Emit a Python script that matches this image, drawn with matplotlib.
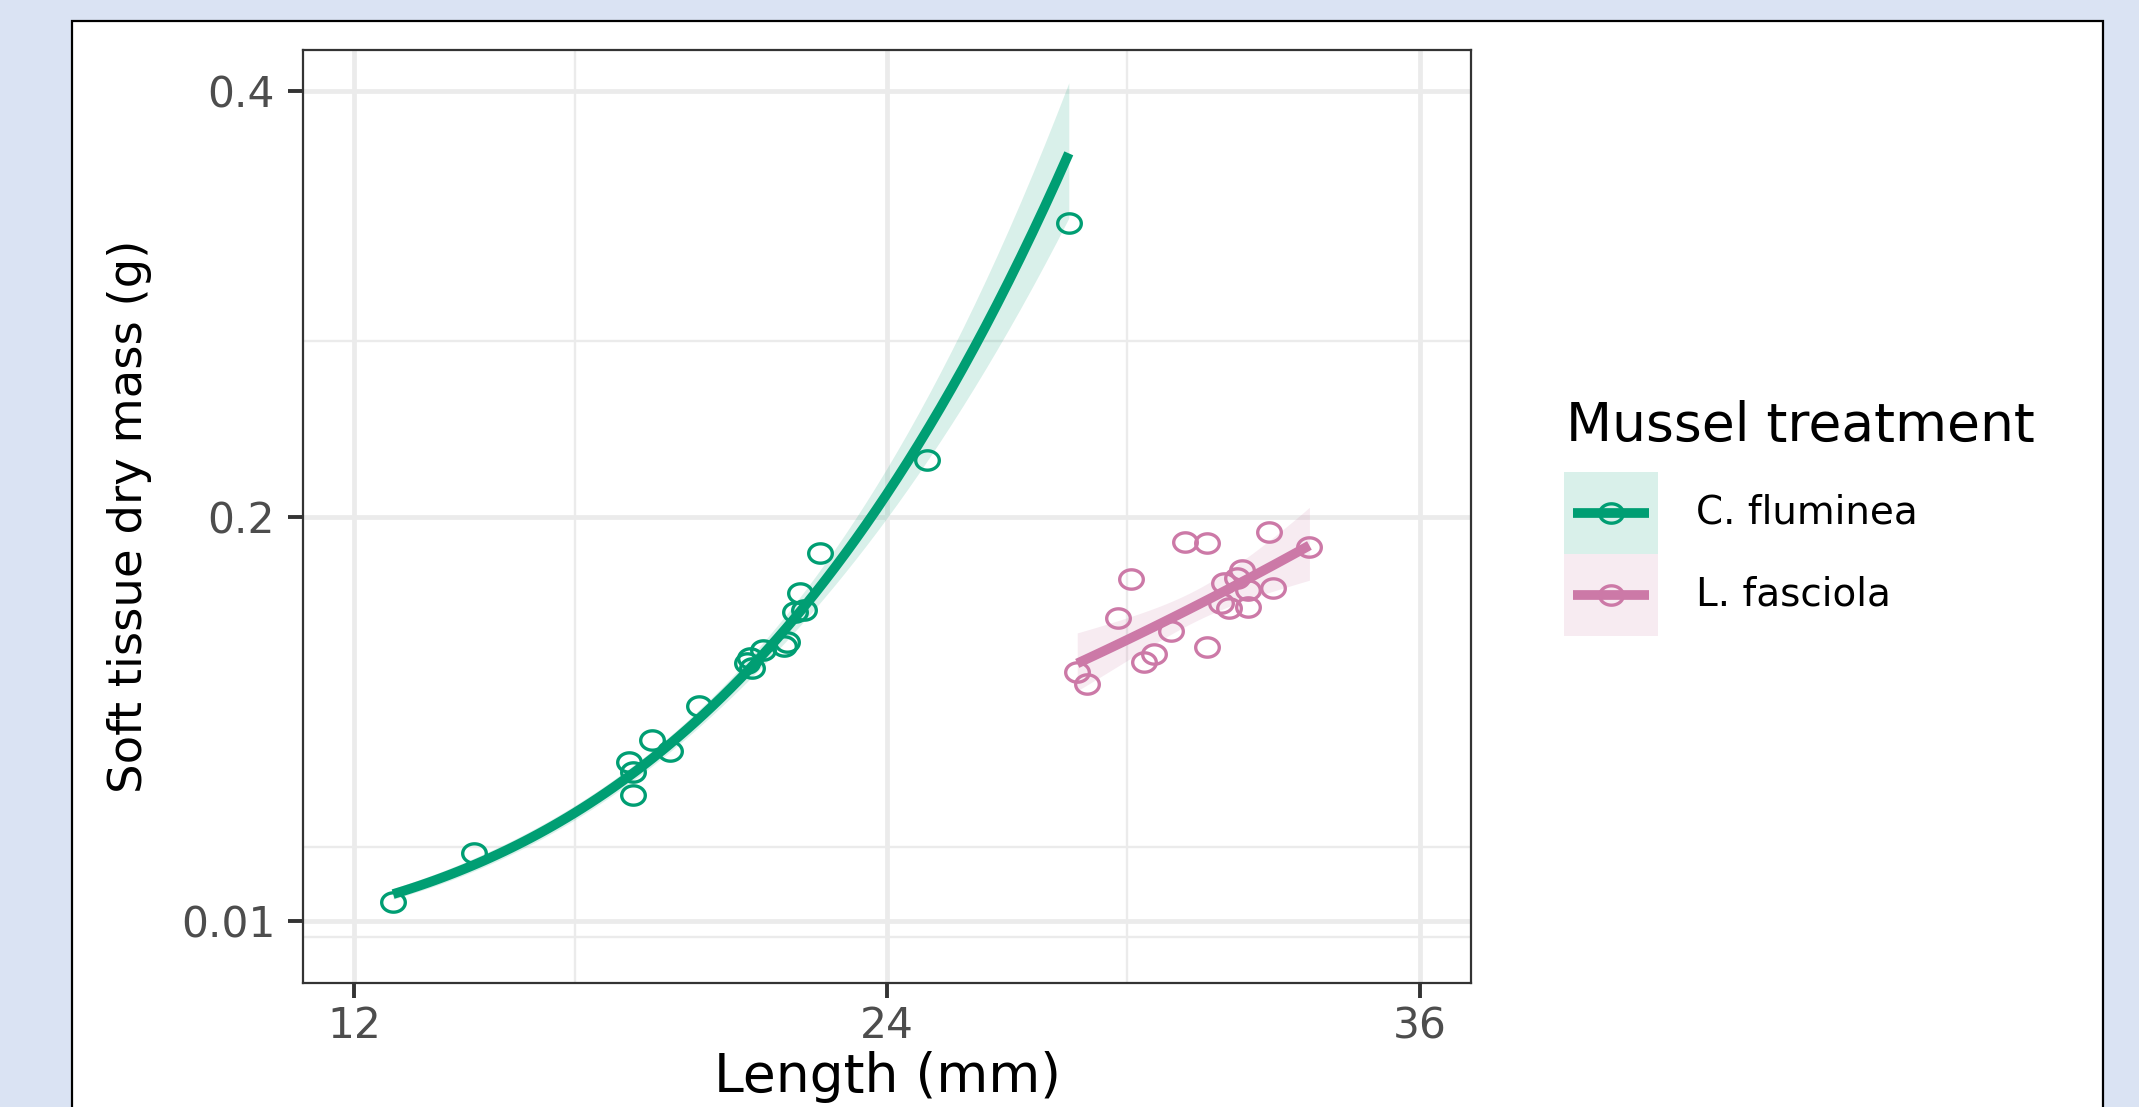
import numpy as np
import matplotlib
matplotlib.use("Agg")
import matplotlib.pyplot as plt
from matplotlib.path import Path
from matplotlib.patches import Rectangle
from matplotlib.lines import Line2D

# ---- data ----
cf_length = [12.87, 14.69, 18.19, 18.28, 18.28, 18.70, 19.11, 19.77, 20.84, 20.92,
             20.95, 21.21, 21.67, 21.74, 21.93, 22.04, 22.12, 22.48, 24.89, 28.09]
cf_mass = [0.019, 0.0417, 0.0849, 0.0801, 0.0692, 0.095, 0.0898, 0.111, 0.1311, 0.1334,
           0.1287, 0.1373, 0.1392, 0.1412, 0.1553, 0.164, 0.1561, 0.1828, 0.2268, 0.338]

lf_length = [28.28, 28.49, 29.20, 29.50, 29.79, 30.01, 30.39, 30.70, 31.20, 31.20,
             31.52, 31.59, 31.70, 31.89, 32.00, 32.12, 32.12, 32.60, 32.70, 33.51]
lf_mass = [0.1271, 0.1214, 0.1522, 0.1707, 0.1318, 0.1355, 0.1464, 0.1883, 0.1875, 0.1389,
           0.1593, 0.1687, 0.157, 0.171, 0.175, 0.1655, 0.1577, 0.193, 0.1665, 0.1859]

species = ["C. fluminea", "L. fasciola"]
colors = ["#009E73", "#CC79A7"]

x_breaks = [12, 24, 36]
y_breaks = [0.01, 0.2, 0.4]
y_labels = ["0.01", "0.2", "0.4"]

T_975 = 2.101  # t quantile 0.975, df = 18 (20 points per group)


def loglog_fit(x, y, n=80):
    # lm(log(y) ~ log(x)) with 95% confidence band, back-transformed
    lx, ly = np.log(x), np.log(y)
    b, a = np.polyfit(lx, ly, 1)
    res = ly - (a + b * lx)
    s = np.sqrt(np.sum(res ** 2) / (len(lx) - 2))
    grid = np.linspace(lx.min(), lx.max(), n)
    fit = a + b * grid
    se = s * np.sqrt(1 / len(lx) + (grid - lx.mean()) ** 2 / np.sum((lx - lx.mean()) ** 2))
    return np.exp(grid), np.exp(fit), np.exp(fit - T_975 * se), np.exp(fit + T_975 * se)


plt.rcParams["font.family"] = "DejaVu Sans"

W, H = 2139, 1107
fig = plt.figure(figsize=(W / 100, H / 100), dpi=100, facecolor="#DAE3F3")

def fx(px):
    return px / W

def fy(py):
    return 1 - py / H

# white card behind the plot
fig.patches.append(Rectangle((fx(72), -0.05), fx(2103) - fx(72), fy(21) + 0.05,
                             transform=fig.transFigure, facecolor="white",
                             edgecolor="black", lw=1.6, zorder=-5))

ax = fig.add_axes([fx(303), fy(983), fx(1471) - fx(303), fy(50) - fy(983)])
ax.set_zorder(2)
ax.set_facecolor("white")

# slightly wide ring marker (the original image is stretched sideways)
t = np.linspace(0, 2 * np.pi, 61)
ring = Path(np.column_stack([1.22 * np.cos(t), np.sin(t)]), closed=True)

groups = [(cf_length, cf_mass), (lf_length, lf_mass)]
for (xs, ys), col in zip(groups, colors):
    ax.plot(xs, ys, linestyle="none", marker=ring, markersize=17,
            markerfacecolor="none", markeredgecolor=col, markeredgewidth=2.4, zorder=3)
    gx, gy, lo, hi = loglog_fit(np.array(xs), np.array(ys))
    ax.fill_between(gx, lo, hi, color=col, alpha=0.15, lw=0, zorder=2)
    ax.plot(gx, gy, color=col, lw=7, solid_capstyle="butt", zorder=4)

ax.set_xlim(10.84, 37.15)
ax.set_ylim(-0.0192, 0.4195)

# grid: minor lines sit at geometric means of the breaks (log scale)
x_minor = [np.sqrt(x_breaks[0] * x_breaks[1]), np.sqrt(x_breaks[1] * x_breaks[2])]
y_minor = [y_breaks[0] / np.sqrt(y_breaks[1] / y_breaks[0]),
           np.sqrt(y_breaks[0] * y_breaks[1]), np.sqrt(y_breaks[1] * y_breaks[2])]
ax.set_xticks(x_breaks)
ax.set_xticks(x_minor, minor=True)
ax.set_yticks(y_breaks)
ax.set_yticklabels(y_labels)
ax.set_yticks(y_minor, minor=True)
ax.grid(which="major", color="#EBEBEB", lw=3.4, zorder=0)
ax.grid(which="minor", color="#EBEBEB", lw=1.7, zorder=0)
ax.set_axisbelow(True)

ax.tick_params(which="major", length=11, width=2.8, color="#333333",
               labelsize=30.5, labelcolor="#4D4D4D")
ax.tick_params(axis="y", pad=9)
ax.tick_params(axis="x", pad=5)
ax.tick_params(which="minor", length=0)
for sp in ax.spines.values():
    sp.set_color("#333333")
    sp.set_linewidth(1.6)

# axis titles
fig.text(fx(887), fy(1077), "Length (mm)", ha="center", va="center", fontsize=38.5)
fig.text(fx(130), fy(516), "Soft tissue dry mass (g)", ha="center", va="center",
         rotation=90, fontsize=33.5)

# legend
fig.text(fx(1566), fy(441), "Mussel treatment", ha="left", va="baseline", fontsize=38.5)
key_top = [472, 554]
for name, col, top in zip(species, colors, key_top):
    fig.patches.append(Rectangle((fx(1564), fy(top + 82)), fx(94), 82 / H,
                                 transform=fig.transFigure, facecolor=col,
                                 alpha=0.15, lw=0, zorder=1))
    yc = fy(top + 41)
    fig.lines.append(Line2D([fx(1573), fx(1649)], [yc, yc], transform=fig.transFigure,
                            color=col, lw=7, solid_capstyle="butt", zorder=2))
    fig.lines.append(Line2D([fx(1611)], [yc], transform=fig.transFigure,
                            linestyle="none", marker=ring, markersize=17,
                            markerfacecolor="none", markeredgecolor=col,
                            markeredgewidth=2.4, zorder=3))
    fig.text(fx(1696), yc, name, ha="left", va="center", fontsize=28)

fig.savefig("out.png", dpi=100, facecolor=fig.get_facecolor())
